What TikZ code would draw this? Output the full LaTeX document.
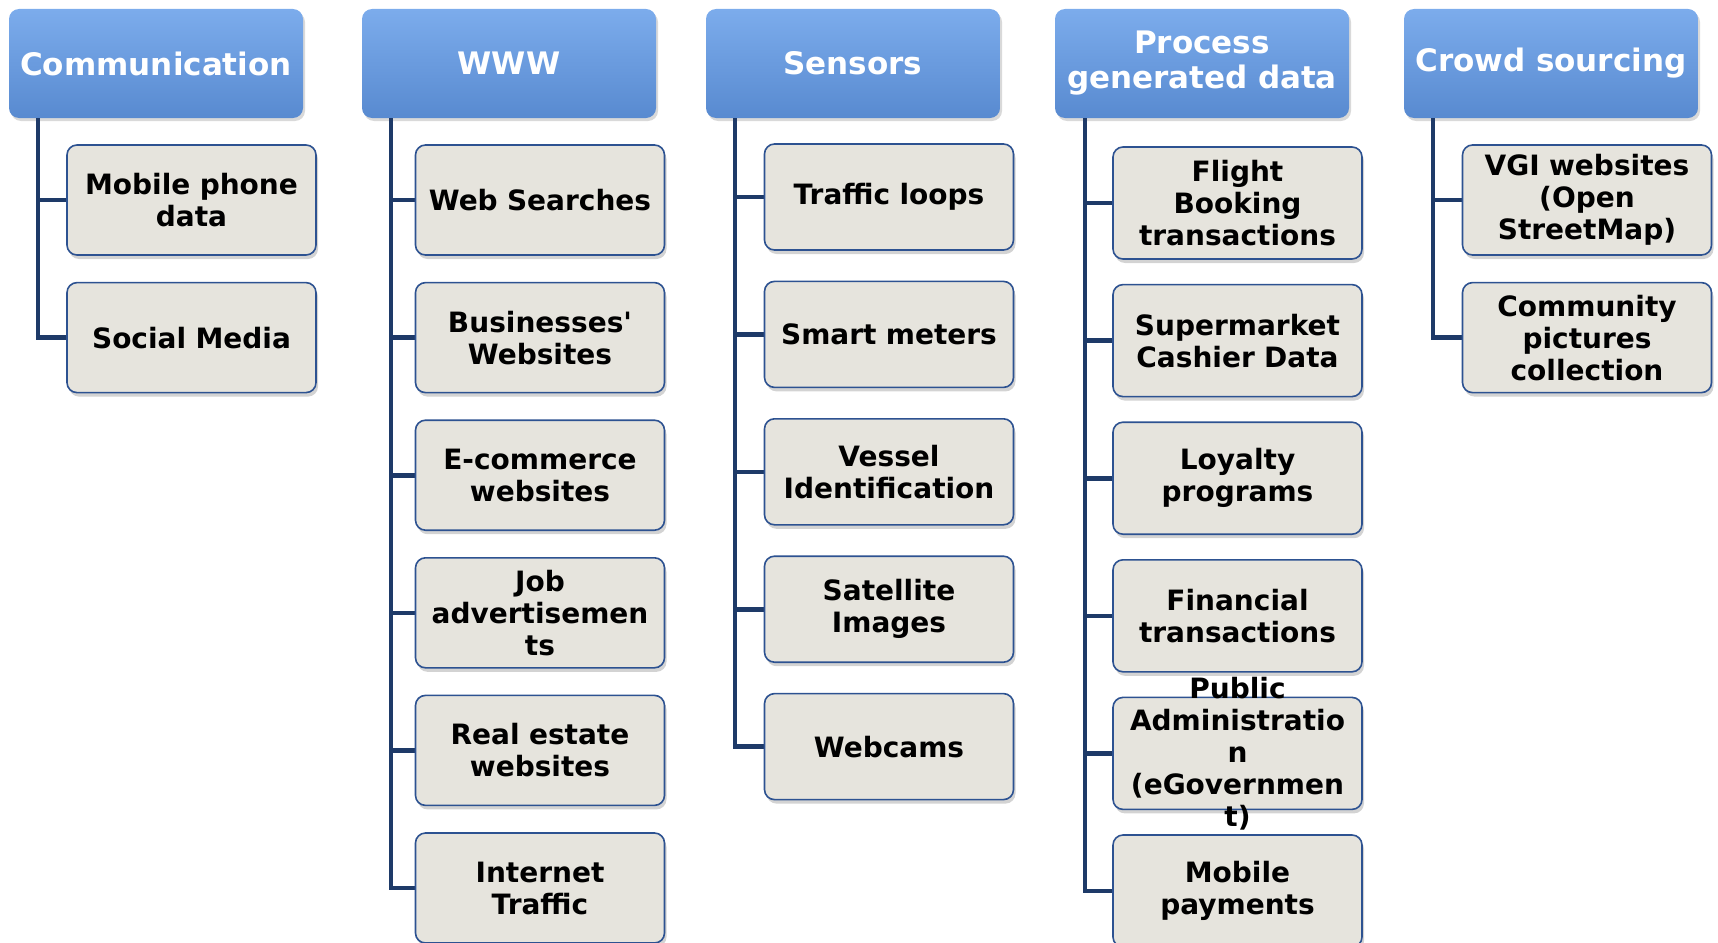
\documentclass[tikz,border=0pt]{standalone}
\usepackage{fontspec}
\setmainfont{DejaVu Sans}
\usetikzlibrary{shadows}
\definecolor{hdrtop}{RGB}{124,172,236}
\definecolor{hdrbot}{RGB}{88,138,208}
\definecolor{itemfill}{RGB}{230,228,221}
\definecolor{itemline}{RGB}{45,82,145}
\definecolor{trunk}{RGB}{30,58,104}
\tikzset{
  hdr/.style={rounded corners=10pt,top color=hdrtop,bottom color=hdrbot,draw=none,
    minimum width=294pt,minimum height=109pt,text width=286pt,align=center,inner sep=2pt,
    text=white,font=\bfseries\fontsize{31}{35}\selectfont,
    drop shadow={shadow xshift=2pt,shadow yshift=-3pt,opacity=.3}},
  item/.style={rounded corners=10pt,fill=itemfill,draw=itemline,line width=1.6pt,
    minimum width=249pt,minimum height=110pt,text width=243pt,align=center,inner sep=3pt,
    font=\bfseries\fontsize{28}{32}\selectfont,
    drop shadow={shadow xshift=2pt,shadow yshift=-4pt,opacity=.35}},
  itemtxt/.style={text width=243pt,align=center,inner sep=0pt,font=\bfseries\fontsize{28}{32}\selectfont},
  link/.style={draw=trunk,line width=4.6pt,line join=miter}
}
\begin{document}
\begin{tikzpicture}[x=1pt,y=-1pt]
\useasboundingbox (0,0) rectangle (1718,942);
% column heads
\node[hdr] (hdr1) at (156,63.5) {Communication};
\node[hdr] (hdr2) at (509,63.5) {WWW};
\node[hdr] (hdr3) at (853,63.5) {Sensors};
\node[hdr] (hdr4) at (1202,63.5) {Process\\generated data};
\node[hdr] (hdr5) at (1551,63.5) {Crowd sourcing};
% trunks and ticks first, boxes go on top
\foreach \k in {1,2} \draw[link] ([xshift=29pt]hdr1.south west) |- (191.5,{200+137.6*(\k-1)});
\foreach \k in {1,...,6} \draw[link] ([xshift=29pt]hdr2.south west) |- (540,{200+137.6*(\k-1)});
\foreach \k in {1,...,5} \draw[link] ([xshift=29pt]hdr3.south west) |- (889,{197+137.4*(\k-1)});
\foreach \k in {1,...,6} \draw[link] ([xshift=30pt]hdr4.south west) |- (1237.5,{203+137.6*(\k-1)});
\foreach \k in {1,2} \draw[link] ([xshift=29pt]hdr5.south west) |- (1587,{200+137.6*(\k-1)});
% items
\foreach \t [count=\k] in {{Mobile phone\\data},{Social Media}}
  \node[item] (a\k) at (191.5,{200+137.6*(\k-1)}) {\t};
\foreach \t [count=\k] in {{Web Searches},{Businesses\textquotesingle\\Websites},{E-commerce\\websites},{Job\\advertisemen\\ts},{Real estate\\websites},{Internet\\Traffic}}
  \node[item] (b\k) at (540,{200+137.6*(\k-1)}) {\t};
\foreach \t [count=\k] in {{Traffic loops},{Smart meters},{Vessel\\Identification},{Satellite\\Images},{Webcams}}
  \node[item,minimum height=106pt] (c\k) at (889,{197+137.4*(\k-1)}) {\t};
\foreach \t [count=\k] in {{Flight\\Booking\\transactions},{Supermarket\\Cashier Data},{Loyalty\\programs},{Financial\\transactions},{},{Mobile\\payments}}
  \node[item,minimum height=112pt] (d\k) at (1237.5,{203+137.6*(\k-1)}) {\t};
\node[itemtxt] (d5txt) at (d5) {Public\\Administratio\\n\\(eGovernmen\\t)};
\foreach \t [count=\k] in {{VGI websites\\(Open\\StreetMap)},{Community\\pictures\\collection}}
  \node[item] (e\k) at (1587,{200+137.6*(\k-1)}) {\t};
\end{tikzpicture}
\end{document}
